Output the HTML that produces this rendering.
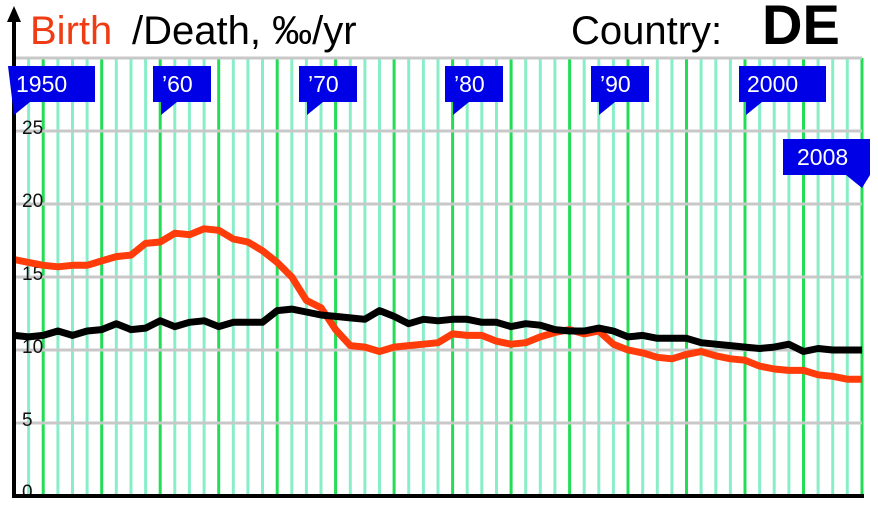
<!DOCTYPE html>
<html><head><meta charset="utf-8"><style>html,body{margin:0;padding:0;background:#fff}svg{display:block}</style></head>
<body>
<svg id="s" width="878" height="512" viewBox="0 0 878 512" xmlns="http://www.w3.org/2000/svg" font-family="Liberation Sans, sans-serif">
<g id="grid"></g>
<g stroke="#c8c8c8" stroke-width="3">
<line x1="14" y1="58" x2="862" y2="58"/><line x1="14" y1="131" x2="862" y2="131"/><line x1="14" y1="204" x2="862" y2="204"/><line x1="14" y1="277" x2="862" y2="277"/><line x1="14" y1="350" x2="862" y2="350"/><line x1="14" y1="423" x2="862" y2="423"/>
</g>
<g font-size="19" fill="#111">
<text x="22" y="134">25</text><text x="22" y="207">20</text><text x="22" y="280">15</text><text x="22" y="353">10</text><text x="22" y="426">5</text><text x="22" y="498">0</text>
</g>
<polyline id="birth" fill="none" stroke="#ff3c0a" stroke-width="7" stroke-linejoin="round"/>
<polyline id="death" fill="none" stroke="#000" stroke-width="7" stroke-linejoin="round"/>
<line x1="14" y1="18" x2="14" y2="497" stroke="#000" stroke-width="4"/>
<line x1="12" y1="496" x2="864" y2="496" stroke="#000" stroke-width="4"/>
<polygon points="14,6 7,22 21,22" fill="#000"/>
<g fill="#0000e6">
<path d="M8,66 H95 V102 H30 L14,115 Z"/>
<path d="M153,66 H211 V102 H177 L161,115 V102 H153 Z"/>
<path d="M299,66 H357 V102 H323 L307,115 V102 H299 Z"/>
<path d="M445,66 H503 V102 H469 L453,115 V102 H445 Z"/>
<path d="M591,66 H649 V102 H615 L599,115 V102 H591 Z"/>
<path d="M739,66 H826 V102 H762 L746,115 V102 H739 Z"/>
<path d="M783,139 H870 V175 L862,188 L846,175 H783 Z"/>
</g>
<g fill="#fff" font-size="23">
<text x="16" y="92">1950</text><text x="162" y="92">’60</text><text x="308" y="92">’70</text><text x="454" y="92">’80</text><text x="600" y="92">’90</text><text x="747" y="92">2000</text><text x="797" y="165">2008</text>
</g>
<text x="30" y="44" font-size="40" fill="#f03c14">Birth</text>
<text x="132" y="44" font-size="40" fill="#000">/Death, ‰/yr</text>
<text x="571" y="44" font-size="40" fill="#000">Country:</text>
<text x="762" y="44" font-size="56" font-weight="bold" fill="#000">DE</text>
</svg>
<script>
var g=document.getElementById('grid'),s='';
function X(y){return 14+(y-1950)*14.62}
for(var y=1951;y<=2008;y++){var x=X(y).toFixed(1);var d=(y-1952)%4==0;
s+='<line x1="'+x+'" y1="58" x2="'+x+'" y2="496" stroke="'+(d?'#22dd55':'#88eec8')+'" stroke-width="3"/>';}
g.innerHTML=s;
var b=[16.2,16.0,15.8,15.7,15.8,15.8,16.1,16.4,16.5,17.3,17.4,18.0,17.9,18.3,18.2,17.6,17.4,16.8,16.0,15.0,13.4,12.9,11.4,10.3,10.2,9.9,10.2,10.3,10.4,10.5,11.1,11.0,11.0,10.6,10.4,10.5,10.9,11.2,11.4,11.1,11.3,10.4,10.0,9.8,9.5,9.4,9.7,9.9,9.6,9.4,9.3,8.9,8.7,8.6,8.6,8.3,8.2,8.0,8.0];
var d=[11.0,10.9,11.0,11.3,11.0,11.3,11.4,11.8,11.4,11.5,12.0,11.6,11.9,12.0,11.6,11.9,11.9,11.9,12.7,12.8,12.6,12.4,12.3,12.2,12.1,12.7,12.3,11.8,12.1,12.0,12.1,12.1,11.9,11.9,11.6,11.8,11.7,11.4,11.3,11.3,11.5,11.3,10.9,11.0,10.8,10.8,10.8,10.5,10.4,10.3,10.2,10.1,10.2,10.4,9.9,10.1,10.0,10.0,10.0];
function P(a){return a.map(function(v,i){return X(1950+i).toFixed(1)+','+(496-v*14.6).toFixed(1)}).join(' ')}
document.getElementById('birth').setAttribute('points',P(b));
document.getElementById('death').setAttribute('points',P(d));
</script>
</body></html>
